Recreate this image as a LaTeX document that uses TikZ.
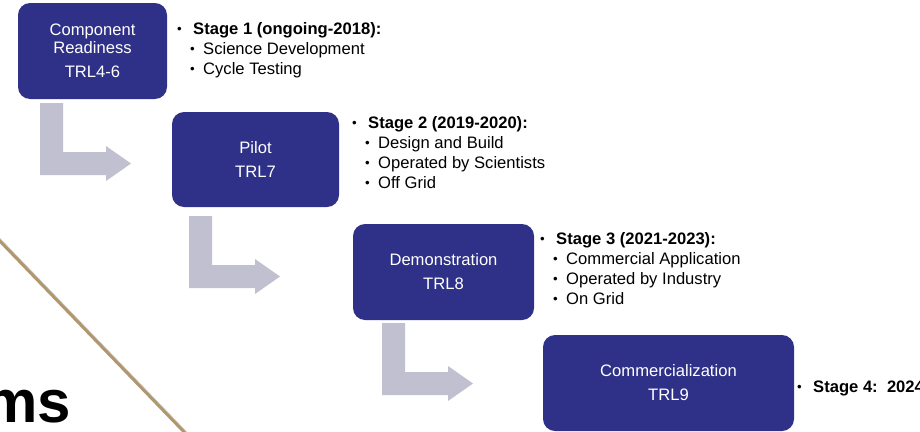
\documentclass[tikz,border=0pt]{standalone}
\usepackage{fontspec}
\setmainfont{Liberation Sans}

\definecolor{trlblue}{RGB}{46,49,135}
\definecolor{arrowgray}{RGB}{192,192,208}
\definecolor{rulegold}{RGB}{176,151,110}

\newcommand\smallbullet{\raisebox{0.06em}{\scalebox{0.8}{\textbullet}}}
\newcommand\stagehead[1]{\makebox[16pt][l]{\smallbullet}\textbf{#1}}
\newcommand\stageitem[1]{\hspace*{13pt}\makebox[13pt][l]{\smallbullet}#1}

\tikzset{
	trlbox/.style={fill=trlblue, rounded corners=12pt, text=white, align=center, inner sep=0pt, font=\fontsize{16.6}{18}\selectfont},
	stagetext/.style={anchor=base west, align=left, inner sep=0pt, font=\fontsize{16.6}{20}\selectfont},
	bentarrow/.pic={\fill[arrowgray] (0,0)--(23,0)--(23,49)--(66,49)--(66,43)--(91,60.5)--(66,78)--(66,72)--(0,72)--cycle;}
}

\begin{document}
\begin{tikzpicture}[x=1pt,y=-1pt]
	\useasboundingbox (0,0) rectangle (920,431);
	\clip (0,0) rectangle (920,431);
	
	% slanted rule and cut title
	\draw[gray!40, line width=3pt] (-3,237) -- (189,436);
	\draw[rulegold, line width=3pt] (-5,236) -- (187,435);
	\node[anchor=base east, inner sep=0pt, font=\fontsize{60}{60}\selectfont\bfseries] (title) at (71,422) {ms};
	
	% stages
	\node[trlbox, minimum width=149pt, minimum height=96pt] (comp) at (92.5,51) {Component\\Readiness\\[6pt]TRL4-6};
	\node[trlbox, minimum width=167pt, minimum height=95pt] (pilot) at (255.5,159.5) {Pilot\\[6pt]TRL7};
	\node[trlbox, minimum width=181pt, minimum height=96pt] (demo) at (443.5,272) {Demonstration\\[6pt]TRL8};
	\node[trlbox, minimum width=251pt, minimum height=96pt] (comm) at (668.5,383) {Commercialization\\[6pt]TRL9};
	
	\pic at (40,103) {bentarrow};
	\pic at (189,216) {bentarrow};
	\pic at (382,323) {bentarrow};
	
	% notes (base = last line)
	\node[stagetext] (s1) at (177,74) {\stagehead{Stage 1 (ongoing-2018):}\\\stageitem{Science Development}\\\stageitem{Cycle Testing}};
	\node[stagetext] (s2) at (352,188) {\stagehead{Stage 2 (2019-2020):}\\\stageitem{Design and Build}\\\stageitem{Operated by Scientists}\\\stageitem{Off Grid}};
	\node[stagetext] (s3) at (540,304) {\stagehead{Stage 3 (2021-2023):}\\\stageitem{Commercial Application}\\\stageitem{Operated by Industry}\\\stageitem{On Grid}};
	\node[stagetext] (s4) at (797,392) {\stagehead{Stage 4:\ \ 2024}};
\end{tikzpicture}
\end{document}
